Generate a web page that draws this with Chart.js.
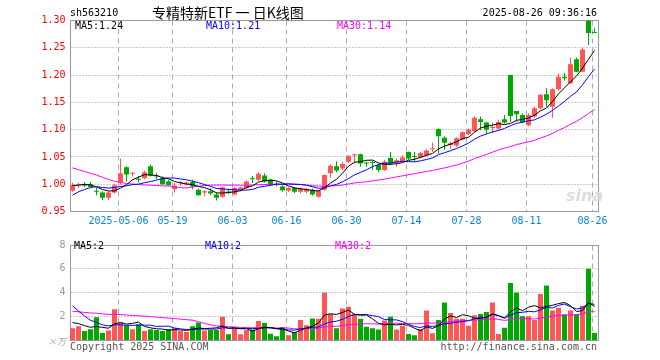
<!DOCTYPE html>
<html>
<head>
<meta charset="utf-8">
<script src="https://cdn.jsdelivr.net/npm/chart.js@4.4.1/dist/chart.umd.min.js"></script>
<style>
  body { margin: 0; background: #fff; }
  #wrap { position: relative; width: 660px; height: 360px; overflow: hidden;
          font-family: 'DejaVu Sans Mono', monospace; font-size: 10px; color: #000; }
  #wrap canvas { position: absolute; left: 0; }
  .txt { position: absolute; line-height: 12px; white-space: nowrap; }
</style>
</head>
<body>
<div id="wrap">
  <canvas id="kChart" width="660" height="235" style="top:0"></canvas>
  <canvas id="volChart" width="660" height="125" style="top:235px"></canvas>

  <div class="txt" style="left:70px;top:7px">sh563210</div>
  <div class="txt" style="left:152px;top:4px;font:14px 'Noto Sans CJK SC';line-height:17px">专精特新ETF 一 日K线图</div>
  <div class="txt" style="right:63px;top:7px">2025-08-26 09:36:16</div>

  <div class="txt" style="left:75px;top:20px">MA5:1.24</div>
  <div class="txt" style="left:206px;top:20px;color:#00f">MA10:1.21</div>
  <div class="txt" style="left:337px;top:20px;color:#f0f">MA30:1.14</div>
  <div class="txt" style="left:566px;top:186px;font:italic bold 16px 'DejaVu Sans';color:#ddd">sina</div>

  <div class="txt" style="left:74px;top:240px">MA5:2</div>
  <div class="txt" style="left:205px;top:240px;color:#00f">MA10:2</div>
  <div class="txt" style="left:335px;top:240px;color:#f0f">MA30:2</div>

  <div class="txt" style="left:48px;top:335px;font:italic 9px 'Noto Sans CJK SC';color:#aaa">×万</div>
  <div class="txt" style="left:70px;top:341px;color:#555">Copyright 2025 SINA.COM</div>
  <div class="txt" style="right:63px;top:341px;color:#555">http://finance.sina.com.cn</div>
</div>

<script>
// trading days shown on the chart
const dates = [
  '2025-04-21','2025-04-22','2025-04-23','2025-04-24','2025-04-25','2025-04-28','2025-04-29','2025-04-30',
  '2025-05-06','2025-05-07','2025-05-08','2025-05-09','2025-05-12','2025-05-13','2025-05-14','2025-05-15','2025-05-16',
  '2025-05-19','2025-05-20','2025-05-21','2025-05-22','2025-05-23','2025-05-26','2025-05-27','2025-05-28','2025-05-29','2025-05-30',
  '2025-06-03','2025-06-04','2025-06-05','2025-06-06','2025-06-09','2025-06-10','2025-06-11','2025-06-12','2025-06-13',
  '2025-06-16','2025-06-17','2025-06-18','2025-06-19','2025-06-20','2025-06-23','2025-06-24','2025-06-25','2025-06-26','2025-06-27','2025-06-30',
  '2025-07-01','2025-07-02','2025-07-03','2025-07-04','2025-07-07','2025-07-08','2025-07-09','2025-07-10','2025-07-11',
  '2025-07-14','2025-07-15','2025-07-16','2025-07-17','2025-07-18','2025-07-21','2025-07-22','2025-07-23','2025-07-24','2025-07-25',
  '2025-07-28','2025-07-29','2025-07-30','2025-07-31','2025-08-01','2025-08-04','2025-08-05','2025-08-06','2025-08-07','2025-08-08',
  '2025-08-11','2025-08-12','2025-08-13','2025-08-14','2025-08-15','2025-08-18','2025-08-19','2025-08-20','2025-08-21','2025-08-22',
  '2025-08-25','2025-08-26'
];

const openP = [
  0.988,0.997,0.999,1.000,0.987,0.985,0.975,0.985,
  1.003,1.031,1.019,1.009,1.011,1.033,1.015,1.011,1.005,0.991,1.002,1.001,1.004,0.990,0.985,0.987,0.981,0.977,0.986,
  0.981,0.990,0.993,1.010,1.008,1.016,1.008,1.000,0.996,0.988,0.993,0.986,0.986,0.990,0.977,0.990,1.020,1.033,1.029,1.041,
  1.053,1.055,1.039,1.040,1.035,1.026,1.048,1.040,1.042,1.059,1.051,1.049,1.053,1.064,1.101,1.085,1.072,1.071,1.082,1.092,1.097,1.119,1.113,
  1.103,1.102,1.119,1.200,1.134,1.127,1.108,1.124,1.139,1.165,1.142,1.174,1.197,1.185,1.229,1.206,1.300,1.278
];
const highP = [
  1.002,1.003,1.004,1.004,0.993,0.987,0.987,1.001,
  1.047,1.033,1.023,1.015,1.025,1.036,1.020,1.014,1.008,1.002,1.006,1.005,1.008,0.992,0.989,0.993,0.985,0.996,0.992,
  0.995,0.996,1.007,1.015,1.022,1.020,1.010,1.005,0.998,0.995,0.995,0.994,0.993,0.992,0.990,1.018,1.036,1.042,1.041,1.053,
  1.056,1.056,1.041,1.043,1.037,1.045,1.059,1.047,1.053,1.060,1.059,1.059,1.064,1.076,1.102,1.088,1.078,1.086,1.097,1.102,1.124,1.124,1.115,
  1.113,1.118,1.127,1.200,1.134,1.130,1.130,1.142,1.165,1.176,1.176,1.203,1.204,1.232,1.232,1.250,1.300,1.286
];
const lowP = [
  0.986,0.993,0.995,0.993,0.980,0.971,0.971,0.983,
  0.999,1.005,1.014,1.003,1.009,1.014,1.009,0.999,0.997,0.985,0.997,0.998,0.991,0.979,0.978,0.980,0.970,0.975,0.982,
  0.980,0.987,0.991,1.002,1.006,1.003,0.997,0.996,0.986,0.986,0.984,0.983,0.984,0.979,0.975,0.988,1.012,1.022,1.026,1.039,
  1.038,1.032,1.032,1.026,1.022,1.024,1.035,1.032,1.041,1.045,1.041,1.047,1.051,1.059,1.056,1.063,1.065,1.068,1.080,1.090,1.095,1.099,1.093,
  1.093,1.100,1.111,1.114,1.115,1.112,1.106,1.122,1.138,1.142,1.122,1.172,1.190,1.184,1.205,1.205,1.255,1.277
];
const closeP = [
  0.998,0.999,0.997,0.995,0.986,0.975,0.985,0.998,
  1.020,1.018,1.020,1.008,1.022,1.016,1.014,1.000,0.998,0.997,1.003,1.003,0.996,0.980,0.987,0.983,0.975,0.994,0.985,
  0.993,0.994,1.005,1.009,1.019,1.005,0.999,0.999,0.989,0.993,0.986,0.992,0.991,0.981,0.988,1.017,1.034,1.025,1.037,1.052,
  1.054,1.038,1.038,1.039,1.026,1.041,1.038,1.044,1.049,1.047,1.050,1.057,1.062,1.066,1.088,1.076,1.075,1.084,1.095,1.100,1.122,1.114,1.100,
  1.105,1.114,1.113,1.125,1.128,1.114,1.127,1.139,1.164,1.154,1.174,1.197,1.194,1.220,1.206,1.247,1.277,1.277
];
const volume = [
  0.99,1.15,0.75,0.9,1.92,0.59,0.8,2.59,
  1.47,1.25,0.9,1.33,0.75,0.9,0.85,0.75,0.9,0.99,0.75,0.67,1.15,1.47,0.8,0.85,0.85,1.95,0.48,
  0.99,0.48,0.85,0.88,1.6,1.44,0.53,0.32,1.07,0.4,0.67,1.68,1.25,1.81,1.79,4.0,2.19,0.99,2.65,2.8,
  2.2,1.79,1.12,0.99,0.88,1.65,1.95,0.88,1.2,0.51,0.4,0.93,2.48,0.56,1.68,3.15,2.27,1.79,1.79,1.2,2.08,2.19,2.35,
  3.15,0.51,1.04,4.8,4.0,2.0,2.0,1.68,3.87,4.59,2.48,2.72,2.16,2.48,2.16,2.88,6.0,0.59
];

// 29 sessions before the window, only used to warm up the moving averages
const prevClose = [1.10,1.09,1.10,1.08,1.10,1.10,1.10,1.09,1.07,1.05,1.04,1.04,1.03,1.03,1.02,1.01,1.04,
  1.04,1.03,0.94,0.935,0.955,0.96,0.97,0.99,0.995,0.99,1.00,1.005];
const prevVol = [2.6,2.4,2.3,2.5,2.2,2.4,2.1,2.3,2.2,2.0,2.1,1.9,2.0,2.2,1.9,2.1,2.3,2.2,2.0,2.3,
  5.6,4.8,4.6,3.6,2.85,1.6,1.6,1.6,1.56];

const tickDates = ['2025-05-06','2025-05-19','2025-06-03','2025-06-16','2025-06-30','2025-07-14','2025-07-28','2025-08-11','2025-08-26'];
const tickLabels = ['2025-05-06','05-19','06-03','06-16','06-30','07-14','07-28','08-11','08-26'];

const UP = '#ff5555', DOWN = '#00a800';
const MONO = { family: 'DejaVu Sans Mono', size: 10 };

const candleColor = closeP.map((c, i) => c >= openP[i] ? UP : DOWN);
const tickIdx = tickDates.map(d => dates.indexOf(d));

function movingAvg(prev, vals, n) {
  const all = prev.concat(vals);
  return vals.map((v, i) => {
    const end = prev.length + i + 1;
    let sum = 0;
    for (let k = end - n; k < end; k++) sum += all[k];
    return sum / n;
  });
}

// dotted level lines, dashed date lines and the frame, like sina's own chart
const sinaGrid = {
  id: 'sinaGrid',
  beforeDatasetsDraw(chart, args, opts) {
    const { ctx, chartArea: a, scales } = chart;
    const left = Math.floor(a.left) + 1.5, right = Math.floor(a.right) + 1.5;
    const top = Math.floor(a.top) + 0.5, bottom = Math.floor(a.bottom) + 0.5;
    ctx.save();
    ctx.lineWidth = 1;
    ctx.strokeStyle = '#999';
    ctx.setLineDash([1, 2]);
    opts.levels.forEach(v => {
      const y = Math.floor(scales.y.getPixelForValue(v)) + 0.5;
      ctx.beginPath(); ctx.moveTo(left, y); ctx.lineTo(right, y); ctx.stroke();
    });
    ctx.strokeStyle = '#aaa';
    ctx.setLineDash([5, 4]);
    tickIdx.forEach(i => {
      const x = Math.floor(scales.x.getPixelForValue(i)) - 2 + 0.5;
      ctx.beginPath(); ctx.moveTo(x, top); ctx.lineTo(x, bottom); ctx.stroke();
    });
    ctx.setLineDash([]);
    ctx.strokeStyle = '#999';
    ctx.strokeRect(left, top, right - left, bottom - top);
    ctx.restore();
  }
};

function maLine(data, color) {
  return { type: 'line', data: data, borderColor: color, borderWidth: 1, pointRadius: 0,
           tension: 0, fill: false, order: 0 };
}

function xScale(height, showLabels) {
  return {
    type: 'category', offset: true,
    grid: { display: false, drawTicks: false }, border: { display: false },
    ticks: {
      display: showLabels, autoSkip: false, maxRotation: 0, minRotation: 0,
      color: '#0a84d6', padding: 4, labelOffset: -2, font: MONO,
      callback: (v, i) => { const k = tickIdx.indexOf(i); return k >= 0 ? tickLabels[k] : ''; }
    },
    afterFit: s => { s.height = height; }
  };
}

// price chart: wick + body as floating bars, MAs as lines
const kCtx = document.getElementById('kChart').getContext('2d');
new Chart(kCtx, {
  type: 'bar',
  data: {
    labels: dates,
    datasets: [
      maLine(movingAvg(prevClose, closeP, 5), '#000'),
      maLine(movingAvg(prevClose, closeP, 10), '#00f'),
      maLine(movingAvg(prevClose, closeP, 30), '#f0f'),
      { data: openP.map((o, i) => [o, closeP[i]]), backgroundColor: candleColor, barThickness: 5,
        minBarLength: 1, grouped: false, inflateAmount: 0, borderWidth: 0, order: 1 },
      { data: lowP.map((l, i) => [l, highP[i]]), backgroundColor: candleColor, barThickness: 1,
        grouped: false, inflateAmount: 0, borderWidth: 0, order: 2 }
    ]
  },
  options: {
    responsive: false, animation: false, events: [],
    layout: { padding: { left: 0, top: 20.5, right: 62.5, bottom: 0 } },
    plugins: { legend: { display: false }, tooltip: { enabled: false },
               sinaGrid: { levels: [1.25, 1.20, 1.15, 1.10, 1.05, 1.00] } },
    scales: {
      x: xScale(23.5, true),
      y: {
        min: 0.95, max: 1.30,
        grid: { display: false, drawTicks: false }, border: { display: false },
        ticks: { stepSize: 0.05, color: '#f00', padding: 4, font: MONO, callback: v => v.toFixed(2) },
        afterFit: s => { s.width = 69.5; }
      }
    }
  },
  plugins: [sinaGrid]
});

// volume chart
const vCtx = document.getElementById('volChart').getContext('2d');
new Chart(vCtx, {
  type: 'bar',
  data: {
    labels: dates,
    datasets: [
      maLine(movingAvg(prevVol, volume, 5), '#000'),
      maLine(movingAvg(prevVol, volume, 10), '#00f'),
      maLine(movingAvg(prevVol, volume, 30), '#f0f'),
      { data: volume, backgroundColor: candleColor, barThickness: 5, grouped: false,
        inflateAmount: 0, borderWidth: 0, order: 1 }
    ]
  },
  options: {
    responsive: false, animation: false, events: [],
    layout: { padding: { left: 0, top: 5.5, right: 62.5, bottom: 0 } },
    plugins: { legend: { display: false }, tooltip: { enabled: false },
               sinaGrid: { levels: [2, 4, 6] } },
    scales: {
      x: xScale(20, false),
      y: {
        min: 0, max: 8,
        grid: { display: false, drawTicks: false }, border: { display: false },
        ticks: { stepSize: 2, color: '#999', padding: 4, font: MONO, callback: v => v === 0 ? '' : v },
        afterFit: s => { s.width = 69.5; }
      }
    }
  },
  plugins: [sinaGrid]
});
</script>
</body>
</html>
